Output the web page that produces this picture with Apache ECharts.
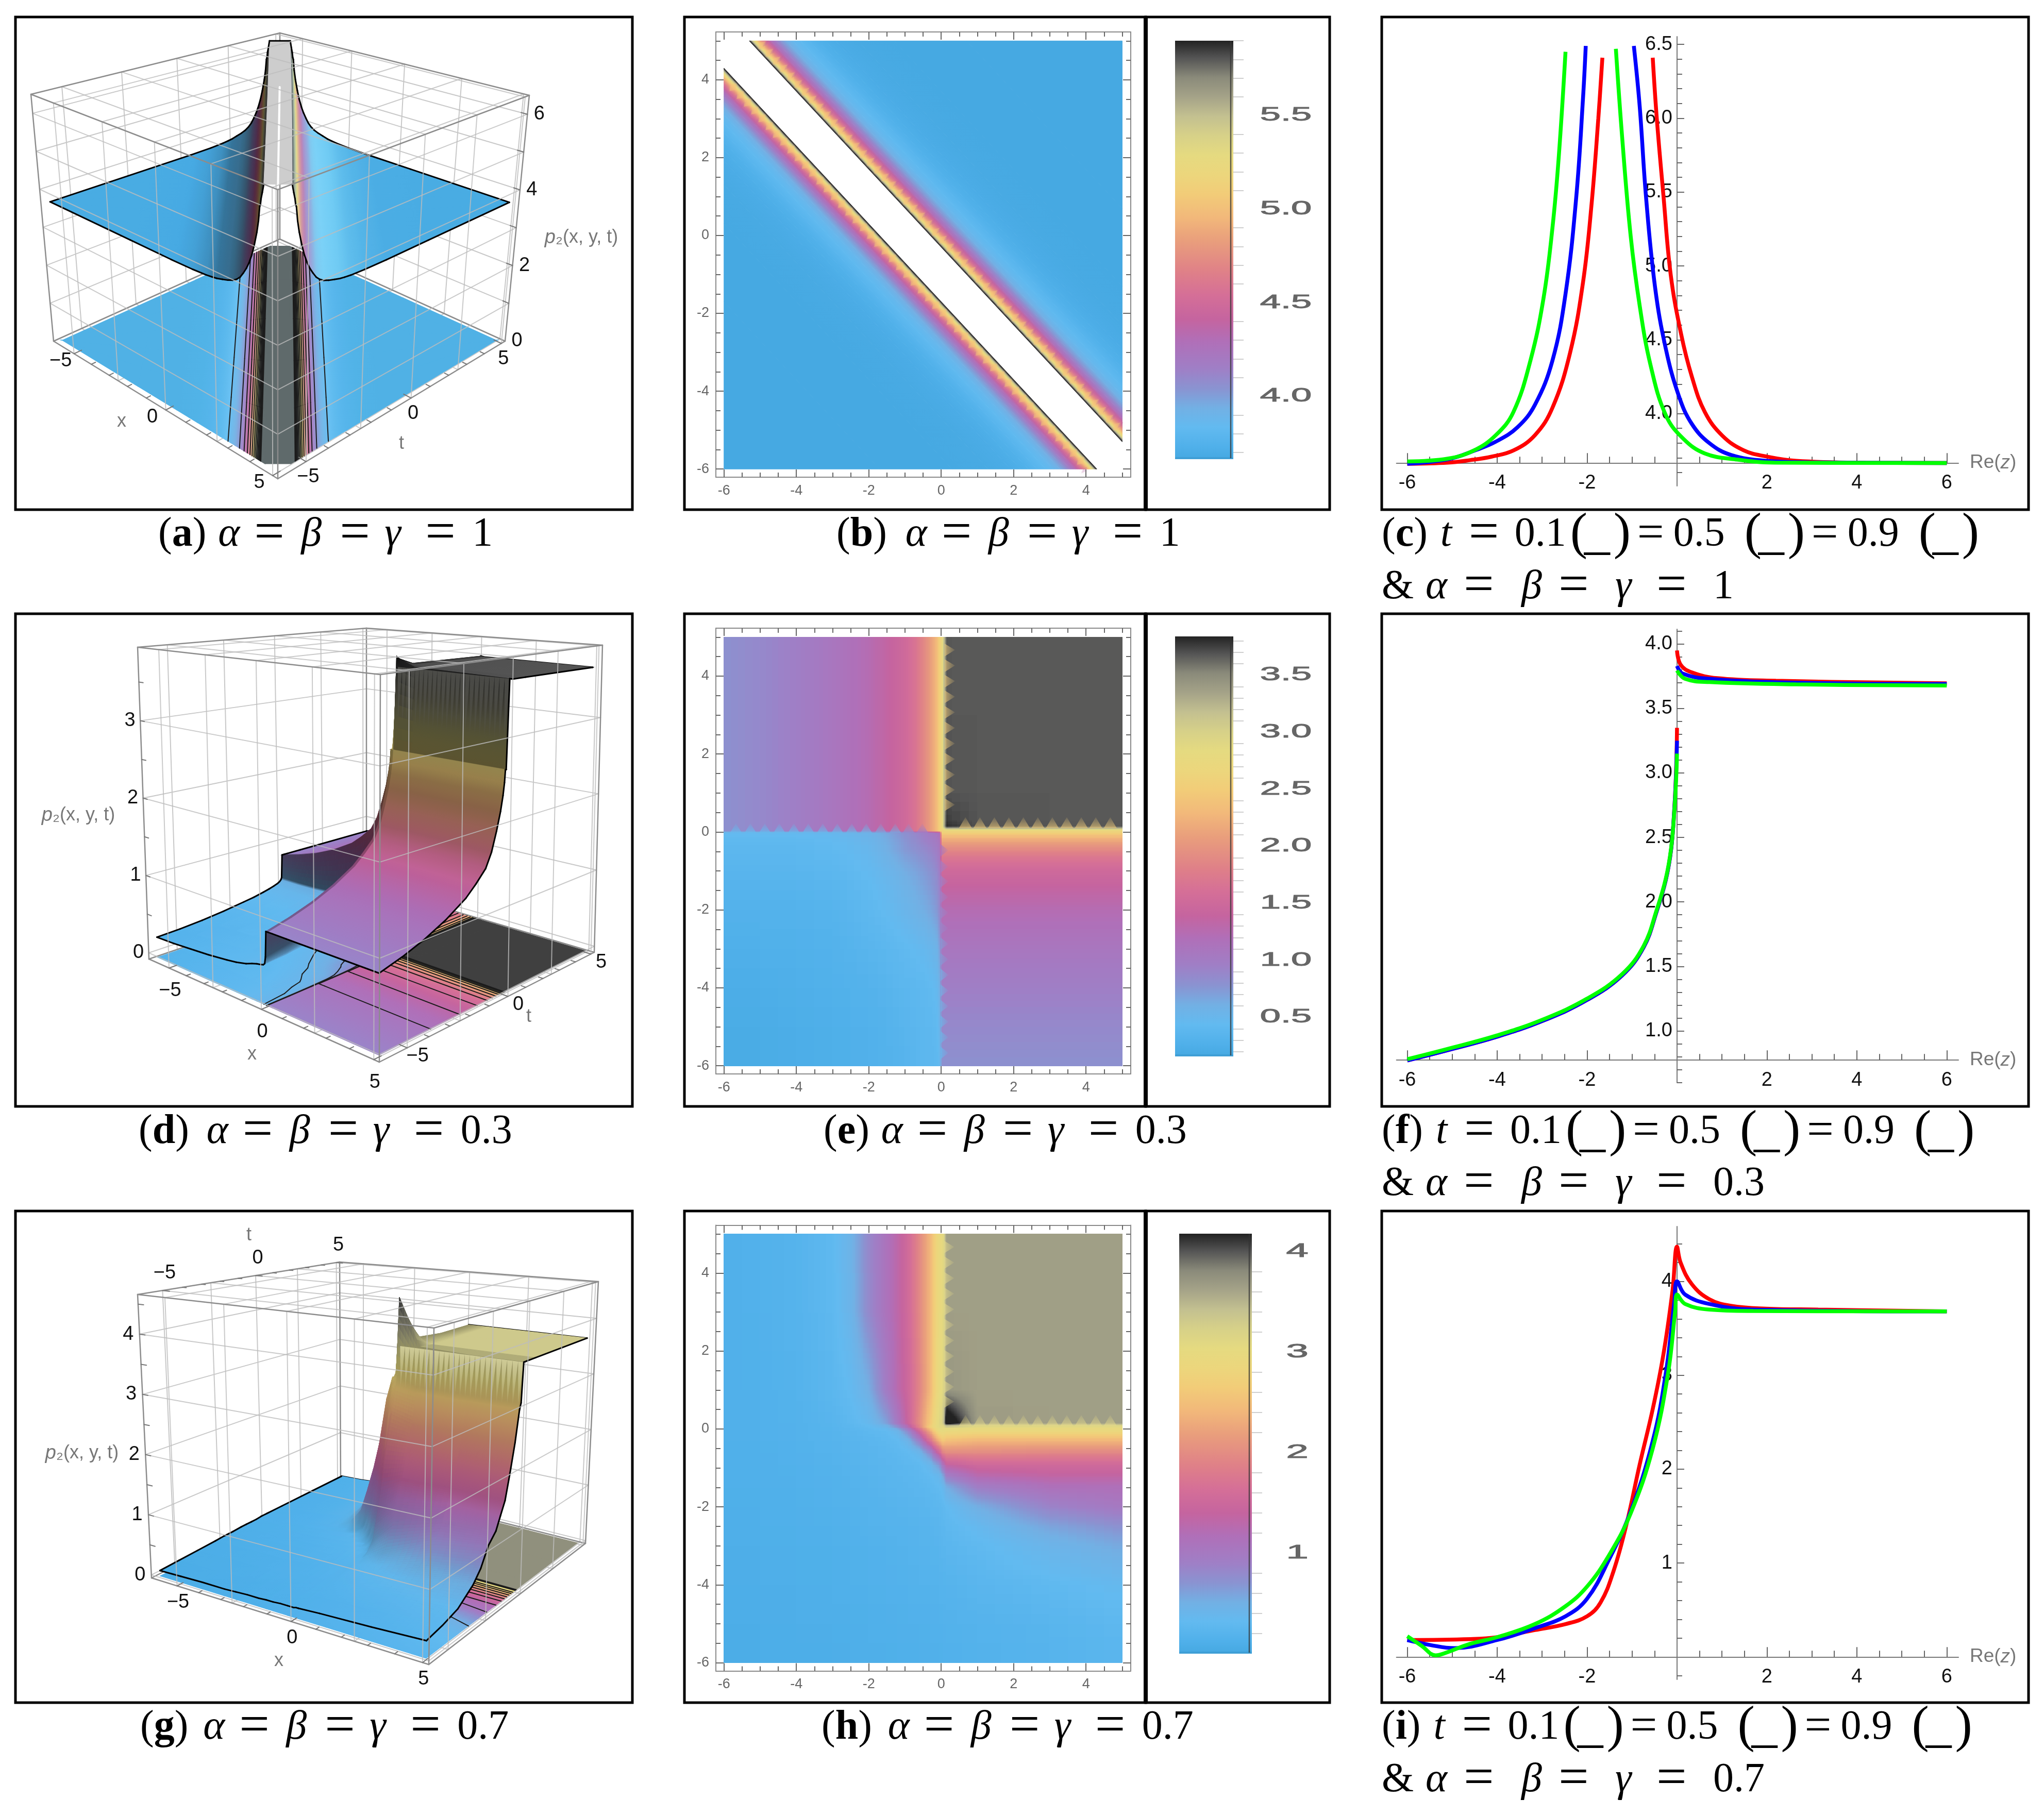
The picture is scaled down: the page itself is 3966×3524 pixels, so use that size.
<!DOCTYPE html>
<html><head><meta charset="utf-8">
<style>html,body{margin:0;background:#fff}#c{width:3966px;height:3524px}</style>
<script src="https://cdn.jsdelivr.net/npm/echarts@6/dist/echarts.min.js"></script>
</head><body><div id="c"></div>
<script>
// ---------- values ----------
const palettePos=[0,.028,.074,.12,.167,.214,.279,.333,.391,.446,.521,.577,.633,.679,.726,.772,.819,.865,.912,.958,1];
const paletteCol=['#46a9e2','#50b0ea','#62baf0','#72b0e4','#8a93d1','#9f7fc6','#b06fb8','#c5649f','#d56f97','#df8088','#e99e7c','#f2b87a','#f2cc78','#ecd67c','#e5da80','#d7d188','#c3c090','#a5a388','#8a8a7a','#555555','#222222'];

// (c) curves
const cRed=[[-6,3.66],[-5.1,3.668],[-4.6,3.685],[-4.13,3.708],[-3.64,3.75],[-3.16,3.854],[-2.77,4.04],[-2.38,4.41],[-2.09,4.89],[-1.9,5.42],[-1.75,6.0],[-1.66,6.41],[-1.1,null],[-.54,6.41],[-.45,6.0],[-.3,5.47],[-.14,4.94],[.09,4.54],[.33,4.25],[.62,4.01],[1.01,3.85],[1.49,3.75],[1.98,3.71],[2.65,3.68],[4.2,3.667],[6,3.665]];
const cBlue=[[-6,3.66],[-5.1,3.69],[-4.5,3.75],[-4.03,3.81],[-3.55,3.907],[-3.16,4.06],[-2.77,4.36],[-2.48,4.81],[-2.24,5.47],[-2.09,6.14],[-2.03,6.49],[-1.5,null],[-.96,6.49],[-.83,6.08],[-.69,5.47],[-.49,4.86],[-.25,4.44],[.04,4.12],[.33,3.93],[.72,3.8],[1.2,3.72],[1.98,3.68],[2.95,3.67],[6,3.665]];
const cGreen=[[-6,3.676],[-5.1,3.695],[-4.52,3.75],[-4.03,3.854],[-3.64,4.01],[-3.26,4.36],[-2.97,4.78],[-2.77,5.26],[-2.63,5.74],[-2.48,6.45],[-1.9,null],[-1.36,6.47],[-1.22,5.87],[-1.03,5.2],[-.83,4.73],[-.59,4.33],[-.25,3.99],[.14,3.83],[.62,3.73],[1.3,3.69],[2.17,3.668],[6,3.665]];
// (f) curves
const fRed=[[-6,.77],[-5.1,.85],[-4,.955],[-2.97,1.08],[-2,1.24],[-1.22,1.43],[-.74,1.65],[-.45,1.93],[-.25,2.17],[-.13,2.41],[-.06,2.72],[-.02,3.02],[0,3.35],[0,null],[0,3.95],[.08,3.84],[.33,3.78],[.9,3.735],[2.2,3.715],[6,3.695]];
const fBlue=[[-6,.77],[-5.1,.85],[-4,.955],[-2.97,1.08],[-2,1.24],[-1.22,1.43],[-.74,1.65],[-.45,1.93],[-.25,2.17],[-.13,2.41],[-.06,2.72],[-.02,3.0],[0,3.25],[0,null],[0,3.83],[.13,3.77],[.72,3.73],[2.65,3.7],[6,3.69]];
const fGreen=[[-6,.78],[-5.1,.86],[-4,.965],[-2.97,1.09],[-2,1.25],[-1.22,1.44],[-.74,1.66],[-.45,1.94],[-.25,2.18],[-.13,2.42],[-.06,2.7],[-.02,2.95],[0,3.15],[0,null],[0,3.795],[.18,3.73],[.72,3.705],[2.65,3.687],[6,3.678]];
// (i) curves
const iRed=[[-6,.18],[-4.6,.19],[-4,.21],[-3.16,.286],[-2.48,.35],[-2,.433],[-1.7,.58],[-1.41,.917],[-1.12,1.42],[-.83,2.05],[-.54,2.64],[-.3,3.23],[-.1,3.9],[0,4.37],[.08,4.2],[.33,3.97],[.72,3.81],[1.2,3.74],[1.98,3.71],[3.14,3.7],[6,3.68]];
const iBlue=[[-6,.18],[-5.48,.126],[-4.95,.093],[-4,.18],[-3.16,.307],[-2.48,.433],[-2,.62],[-1.51,1.04],[-1.03,1.55],[-.54,2.3],[-.25,3.02],[-.06,3.78],[0,4],[.18,3.86],[.72,3.76],[1.69,3.7],[6,3.68]];
const iGreen=[[-6,.22],[-5.68,.118],[-5.37,.017],[-5.2,.034],[-4.6,.139],[-4,.21],[-3.16,.35],[-2.48,.54],[-2,.75],[-1.51,1.085],[-1.03,1.53],[-.54,2.22],[-.2,3.02],[-.04,3.69],[0,3.86],[.18,3.76],[.72,3.7],[1.69,3.685],[6,3.68]];

// (a),(b): value against distance from the clipped band of x+t
const bandLow=-1.7, bandHigh=-.3, bandTop=5.9, capTop=6.4;
const ridgeDist=[0,.03,.08,.15,.26,.37,.49,.6,.73,.87,1.02,1.2,1.41,1.65,1.89,2.1,2.38,3,4,6,10.3];
const ridgeVal=[5.9,5.85,5.52,5.24,4.92,4.66,4.45,4.3,4.16,4.03,3.94,3.87,3.82,3.78,3.74,3.72,3.7,3.68,3.67,3.67,3.67];
const ridgeDistTop=[-.14,-.08,-.03];
const ridgeValTop=[6.4,6.2,6.05];
const beadStepX=.2;

// (d),(e): grid axis and quadrants
const qAxis=[-6,-5,-4,-3,-2,-1.5,-1,-.7,-.45,-.25,-.13,-.06,-.02,.02,.14,.3,1,5];
const qEdge=[.8,.87,.96,1.08,1.24,1.36,1.5,1.67,1.9,2.12,2.3,2.45,2.6];
const qLower=[
[.2,.21,.23,.25,.28,.3,.33,.36,.38,.39,.4,.42,.5],
[.21,.22,.24,.26,.29,.31,.35,.37,.39,.4,.42,.46,.56],
[.23,.24,.26,.28,.31,.34,.38,.39,.41,.43,.47,.52,.62],
[.26,.27,.28,.3,.35,.38,.42,.45,.48,.52,.56,.62,.74],
[.3,.3,.31,.33,.4,.45,.52,.58,.62,.68,.74,.8,.9],
[.32,.32,.33,.35,.42,.48,.56,.62,.68,.74,.8,.86,.94],
[.35,.35,.36,.38,.45,.52,.62,.68,.74,.8,.86,.92,1],
[.37,.37,.38,.4,.47,.56,.68,.74,.8,.86,.92,.97,1.04],
[.39,.39,.39,.42,.5,.6,.74,.8,.86,.92,.97,1.02,1.08],
[.41,.41,.41,.44,.52,.62,.76,.84,.92,.97,1.02,1.06,1.12],
[.43,.43,.43,.46,.54,.64,.78,.86,.94,1,1.05,1.09,1.14],
[.45,.45,.46,.48,.55,.65,.8,.88,.96,1.02,1.07,1.11,1.16],
[.48,.48,.49,.51,.58,.68,.82,.9,.98,1.04,1.1,1.14,1.22]];
const qUpper=[[2.6,2.6,2.6,2.6,2.6],[2.6,3.82,3.78,3.7,3.68],[2.6,3.78,3.74,3.69,3.67],[2.6,3.7,3.69,3.68,3.67],[2.6,3.68,3.67,3.67,3.66]];
// serrations along the seams of (e),(h)
const toothX=[.67,1.07,1.47,1.87,2.27,2.67,3.07,3.47,3.87,4.27,4.67];
const toothT=[.7,1.08,1.47,1.87,2.27,2.67,3.07,3.47,3.87,4.27,4.67];
const lowX=[-.52,-.9,-1.27,-1.67,-2.07,-2.47,-2.87,-3.27,-3.67,-4.07,-4.47,-4.87,-5.27,-5.67];
const lowT=[-.47,-.89,-1.27,-1.67,-2.07,-2.47,-2.87,-3.27,-3.67,-4.07,-4.47,-4.87,-5.27,-5.67];
// comb at the head of the steep walls of (d),(g)
const combX=[.3,.5,.7,.9,1.1,1.3,1.5,1.7,1.9,2.1,2.3,2.5,2.7,2.9,3.1,3.3,3.5,3.7,3.9,4.1,4.3,4.5,4.7,4.9];

// (g),(h): grid
const hAxis=[-6,-5,-4,-3,-2.5,-2,-1.5,-1.2,-.9,-.6,-.3,-.05,.05,.15,1,3,5];
const hRowsTopDown=[
[.12,.14,.18,.28,.45,.8,1.1,1.3,1.55,1.95,2.4,2.95,3.0,3.65,3.65,3.65,3.65],
[.12,.14,.18,.27,.42,.78,1.1,1.3,1.55,1.95,2.4,2.95,3.0,3.65,3.65,3.65,3.65],
[.12,.13,.16,.24,.32,.5,.95,1.25,1.5,1.9,2.4,3.0,3.05,3.72,3.65,3.65,3.65],
[.12,.13,.15,.2,.26,.35,.6,1.0,1.45,2.0,2.6,3.1,3.2,4.5,3.68,3.65,3.65],
[.12,.13,.15,.2,.24,.3,.42,.7,1.2,1.9,2.7,3.1,3.05,3.15,3.0,3.0,3.0],
[.12,.13,.15,.19,.22,.26,.3,.42,.8,1.5,2.3,3.0,3.0,2.95,2.9,2.9,2.9],
[.12,.13,.15,.18,.2,.23,.26,.3,.45,.9,1.7,2.4,2.6,2.5,2.4,2.4,2.4],
[.11,.12,.14,.17,.19,.21,.24,.26,.3,.4,.8,1.5,1.9,2.0,2.0,1.95,1.95],
[.11,.12,.14,.16,.18,.2,.22,.24,.26,.28,.4,.7,1.1,1.4,1.55,1.55,1.55],
[.11,.12,.13,.15,.17,.19,.21,.22,.24,.26,.3,.38,.55,.9,1.25,1.35,1.35],
[.11,.12,.13,.15,.16,.18,.2,.21,.22,.24,.26,.3,.35,.5,.9,1.12,1.15],
[.1,.11,.12,.14,.15,.17,.18,.19,.2,.21,.23,.25,.27,.3,.5,.85,1.0],
[.1,.11,.12,.13,.14,.16,.17,.18,.18,.19,.2,.22,.24,.26,.35,.58,.72],
[.09,.1,.11,.12,.13,.14,.15,.16,.17,.18,.19,.2,.22,.23,.28,.42,.55],
[.08,.09,.1,.11,.12,.13,.14,.14,.15,.16,.16,.17,.18,.18,.22,.28,.35],
[.07,.08,.09,.1,.1,.11,.12,.12,.13,.13,.14,.14,.15,.15,.17,.21,.27],
[.06,.07,.08,.08,.09,.1,.1,.11,.11,.12,.12,.12,.13,.13,.15,.18,.22]];

// tick labels
const densityMajor=[-6,-4,-2,0,2,4];
const densityMinor=[-5.5,-5,-4.5,-3.5,-3,-2.5,-1.5,-1,-.5,.5,1,1.5,2.5,3,3.5,4.5,5];
const curveXMajor=[-6,-4,-2,2,4,6];
const curveXMinor=[-5.5,-5,-4.5,-3.5,-3,-2.5,-1.5,-1,-.5,.5,1,1.5,2.5,3,3.5,4.5,5,5.5];
const cYMajor=[4,4.5,5,5.5,6,6.5];
const cYMinor=[3.6,3.7,3.8,3.9,4.1,4.2,4.3,4.4,4.6,4.7,4.8,4.9,5.1,5.2,5.3,5.4,5.6,5.7,5.8,5.9,6.1,6.2,6.3,6.4];
const fYMajor=[1,1.5,2,2.5,3,3.5,4];
const fYMinor=[.6,.7,.8,.9,1.1,1.2,1.3,1.4,1.6,1.7,1.8,1.9,2.1,2.2,2.3,2.4,2.6,2.7,2.8,2.9,3.1,3.2,3.3,3.4,3.6,3.7,3.8,3.9,4.1];
const iYMajor=[1,2,3,4];
const iYMinor=[-.2,.2,.4,.6,.8,1.2,1.4,1.6,1.8,2.2,2.4,2.6,2.8,3.2,3.4,3.6,3.8,4.2,4.4];
const barB=[4,4.5,5,5.5], barE=[.5,1,1.5,2,2.5,3,3.5], barH=[1,2,3,4];
const tick3DMajor=[-5,0,5];
const tick3DMinor=[-4,-3,-2,-1,1,2,3,4];

// ---------- helpers ----------
const palCache={};
function pal(p){
  p=Math.max(0,Math.min(1,p));
  const k=Math.round(p*1500);
  if(palCache[k])return palCache[k];
  let i=0;while(i<palettePos.length-2&&palettePos[i+1]<p)i++;
  const c=echarts.color.lerp((p-palettePos[i])/(palettePos[i+1]-palettePos[i]),[paletteCol[i],paletteCol[i+1]]);
  return palCache[k]=c;
}
const glow=[150,235,255];
function shade(c,l){
  if(!l)return c;
  const a=echarts.color.parse(c);
  const f=(v,k)=>Math.round(l<0?v*(1+l):v+(glow[k]-v)*l);
  return 'rgb('+f(a[0],0)+','+f(a[1],1)+','+f(a[2],2)+')';
}
function fade(c,alpha){const a=echarts.color.parse(c);return 'rgba('+a[0]+','+a[1]+','+a[2]+','+alpha+')';}
const grids=[],xAxes=[],yAxes=[],series=[],graphics=[];
const SANS='Liberation Sans',SERIF='Liberation Serif';

grids.push({left:0,top:0,width:3966,height:3524});
xAxes.push({type:'value',gridIndex:0,min:0,max:3966,show:false});
yAxes.push({type:'value',gridIndex:0,min:0,max:3524,inverse:true,show:false});
function axisIdx(arr,o){arr.push(o);return arr.length-1;}

function densityFrame(rect,xr,yr){
  const g=grids.push({left:rect[0],top:rect[1],width:rect[2],height:rect[3]})-1;
  const lc={lineStyle:{color:'#8a8a8a',width:2}};
  const mk=(dim,pos,vals,len,labels,line)=>{
    const r=dim==='x'?xr:yr;
    const o={type:'value',gridIndex:g,position:pos,min:r[0],max:r[1],splitLine:{show:false},
      axisLine:{show:line,onZero:false,...lc},
      axisTick:{show:true,inside:true,length:len,customValues:vals,lineStyle:{color:'#666',width:2}},
      axisLabel:labels?{show:true,customValues:vals,fontFamily:SANS,fontSize:27,color:'#666',margin:13}:{show:false}};
    return axisIdx(dim==='x'?xAxes:yAxes,o);
  };
  const xi=mk('x','bottom',densityMajor,15,true,true);
  mk('x','bottom',densityMinor,9,false,false);
  mk('x','top',densityMajor,15,false,true);
  mk('x','top',densityMinor,9,false,false);
  const yi=mk('y','left',densityMajor,15,true,true);
  mk('y','left',densityMinor,9,false,false);
  mk('y','right',densityMajor,15,false,true);
  mk('y','right',densityMinor,9,false,false);
  return {xi,yi};
}
function customBase(name,xi,yi,render,data,extra){
  return Object.assign({type:'custom',name,coordinateSystem:'cartesian2d',xAxisIndex:xi,yAxisIndex:yi,silent:true,
    animation:false,progressive:0,clip:false,data,renderItem:render},extra||{});
}
function densitySeries(name,ax,xs,ts,tab,lo,hi){
  const data=[];
  for(let j=0;j<ts.length-1;j++)for(let i=0;i<xs.length-1;i++)
    data.push([xs[i],ts[j],xs[i+1],ts[j+1],tab[j][i],tab[j][i+1],tab[j+1][i],tab[j+1][i+1]]);
  const span=hi-lo;
  return customBase(name,ax.xi,ax.yi,(p,api)=>{
    const [x0,t0,x1,t1,a,b,c,d]=[0,1,2,3,4,5,6,7].map(k=>api.value(k));
    const A=api.coord([x0,t1]),B=api.coord([x1,t0]);
    const px0=A[0],py0=A[1],pw=B[0]-A[0],ph=B[1]-A[1];
    const dH=Math.max(Math.abs(a-b),Math.abs(c-d))/span,dV=Math.max(Math.abs(a-c),Math.abs(b-d))/span;
    const nx=Math.max(1,Math.min(Math.ceil(pw/3),Math.ceil(dH*220)));
    const ny=Math.max(1,Math.min(Math.ceil(ph/3),Math.ceil(dV*220)));
    const ch=[];
    for(let iy=0;iy<ny;iy++){
      const fy=(iy+.5)/ny;
      const y0=Math.floor(py0+ph*iy/ny),y1=Math.ceil(py0+ph*(iy+1)/ny);
      for(let ix=0;ix<nx;ix++){
        const fx=(ix+.5)/nx;
        const x_0=Math.floor(px0+pw*ix/nx),x_1=Math.ceil(px0+pw*(ix+1)/nx);
        const top=c+(d-c)*fx,bot=a+(b-a)*fx;
        const v=top+(bot-top)*fy;
        ch.push({type:'rect',shape:{x:x_0,y:y0,width:x_1-x_0,height:y1-y0},style:{fill:pal((v-lo)/span)}});
      }
    }
    return {type:'group',children:ch};
  },data,{encode:{x:[0,2],y:[1,3]}});
}
function teethSeries(name,ax,items){
  return customBase(name,ax.xi,ax.yi,(p,api)=>{
    const it=items[p.dataIndex];
    const a=api.coord([it[0]-it[4],it[1]-it[5]]),b=api.coord([it[0]+it[4],it[1]+it[5]]),tip=api.coord([it[2],it[3]]);
    const m=api.coord([it[0],it[1]]);
    const f=new echarts.graphic.LinearGradient(m[0],m[1],tip[0],tip[1],[{offset:0,color:fade(it[6],it[7]||.65)},{offset:1,color:fade(it[6],.12)}],true);
    return {type:'polygon',shape:{points:[a,b,tip]},style:{fill:f}};
  },items.map(i=>[i[0],i[1]]),{encode:{x:0,y:1}});
}
function gradient(A,C,edge,c0,c1,lo,hi,l0,l1,maxP){
  const len=Math.hypot(edge[0],edge[1])||1;
  const n=[-edge[1]/len,edge[0]/len];
  const dot=(C[0]-A[0])*n[0]+(C[1]-A[1])*n[1];
  const B=Math.abs(dot)>.3&&len>1?[A[0]+n[0]*dot,A[1]+n[1]*dot]:C;
  const dl=Math.abs(l1-l0);
  const steps=Math.min(14,Math.max(dl>.005?Math.min(8,Math.ceil(dl*40)):1,Math.ceil(Math.abs(c1-c0)/(hi-lo)*40)));
  const col=(v,l)=>shade(pal(Math.min(maxP,(v-lo)/(hi-lo))),l);
  if(Math.abs(c1-c0)<1e-6&&dl<.002)return col(c0,l0);
  const stops=[];
  for(let s=0;s<=steps;s++){const f=s/steps;stops.push({offset:f,color:col(c0+(c1-c0)*f,l0+(l1-l0)*f)});}
  return new echarts.graphic.LinearGradient(A[0],A[1],B[0],B[1],stops,true);
}
function lineEnds(u){return [Math.max(-6,u-5),Math.min(5,u+6)];}
function stripSeries(name,ax,us,zs,lo,hi){
  const data=[];
  for(let i=0;i<us.length-1;i++)data.push([us[i],us[i+1],zs[i],zs[i+1]]);
  return customBase(name,ax.xi,ax.yi,(p,api)=>{
    const [u0,u1,z0,z1]=[0,1,2,3].map(k=>api.value(k));
    const e0=lineEnds(u0),e1=lineEnds(u1);
    const a=api.coord([e0[0],u0-e0[0]]),b=api.coord([e0[1],u0-e0[1]]),c=api.coord([e1[1],u1-e1[1]]),d=api.coord([e1[0],u1-e1[0]]);
    const e1L=Math.hypot(b[0]-a[0],b[1]-a[1]),e2L=Math.hypot(c[0]-d[0],c[1]-d[1]);
    const f=e1L>=e2L?gradient(a,d,[b[0]-a[0],b[1]-a[1]],z0,z1,lo,hi,0,0,1):gradient(d,a,[c[0]-d[0],c[1]-d[1]],z1,z0,lo,hi,0,0,1);
    return {type:'polygon',shape:{points:[a,b,c,d]},style:{fill:f,stroke:f,lineWidth:1}};
  },data,{encode:{x:0,y:1}});
}
function beadSeries(name,ax,items){
  return customBase(name,ax.xi,ax.yi,(p,api)=>{
    const it=items[p.dataIndex];const x=it[0],u=it[1],ha=it[2],hc=it[3];
    const pts=[api.coord([x+ha,u-x-ha]),api.coord([x+hc/2,u-x+hc/2]),api.coord([x-ha,u-x+ha]),api.coord([x-hc/2,u-x-hc/2])];
    return {type:'polygon',shape:{points:pts},style:{fill:it[4],opacity:it[5],shadowBlur:6,shadowColor:it[4]}};
  },items.map(i=>[i[0],i[1]-i[0]]),{encode:{x:0,y:1}});
}
function colorBar(name,rect,lo,hi,major,step,labelX,scaleX,fmt){
  const g=grids.push({left:rect[0],top:rect[1],width:rect[2],height:rect[3]})-1;
  const xi=axisIdx(xAxes,{type:'value',gridIndex:g,min:0,max:1,show:false});
  const minor=[];
  for(let v=Math.ceil(lo/step)*step;v<hi;v+=step){const r=Math.round(v*100)/100;if(!major.includes(r))minor.push(r);}
  const mkY=(vals,len,col)=>axisIdx(yAxes,{type:'value',gridIndex:g,position:'right',min:lo,max:hi,splitLine:{show:false},axisLine:{show:false},
    axisLabel:{show:false},axisTick:{show:true,length:len,customValues:vals,lineStyle:{color:col,width:2}}});
  const yi=mkY(major,32,'#bdbdbd');mkY(minor,20,'#cfcfcf');
  const stops=palettePos.map((o,i)=>({offset:o,color:paletteCol[i]}));
  series.push(customBase(name,xi,yi,(p,api)=>{
    const a=api.coord([0,hi]),b=api.coord([1,lo]);
    return {type:'group',children:[
      {type:'rect',shape:{x:a[0],y:a[1],width:b[0]-a[0],height:b[1]-a[1]},
       style:{fill:new echarts.graphic.LinearGradient(0,1,0,0,stops),stroke:null}},
      {type:'line',shape:{x1:a[0],y1:b[1],x2:b[0],y2:b[1]},style:{stroke:'#3f9fd6',lineWidth:4}},
      {type:'line',shape:{x1:b[0]-5,y1:a[1],x2:b[0]-5,y2:b[1]},style:{stroke:'#333',lineWidth:2.5,opacity:.75}}
    ]};
  },[[0,lo]],{encode:{x:0,y:1}}));
  series.push(customBase(name+' labels',xi,yi,(p,api)=>{
    const v=api.value(1);const c=api.coord([1,v]);
    return {type:'text',x:labelX,y:c[1],scaleX:scaleX,style:{text:fmt(v),fontFamily:SANS,fontSize:37,fill:'#666',stroke:'#666',lineWidth:1,align:'center',verticalAlign:'middle'}};
  },major.map(v=>[1,v]),{encode:{x:0,y:1}}));
}
function curvePanel(rect,ymin,ymax,cross,yMajor,yMinor,fmt,curves){
  const [l,t,w,h]=rect;const XMIN=-6.24,XMAX=6.26;
  const g=grids.push({left:l,top:t,width:w,height:h})-1;
  const off=-(cross-ymin)*h/(ymax-ymin);
  const offY=XMIN*w/(XMAX-XMIN);
  const tickC={color:'#666',width:2};
  const xi=axisIdx(xAxes,{type:'value',gridIndex:g,position:'bottom',offset:off,min:XMIN,max:XMAX,splitLine:{show:false},
    axisLine:{show:true,onZero:false,lineStyle:{color:'#777',width:2}},
    axisTick:{show:true,inside:true,length:19,customValues:curveXMajor,lineStyle:tickC},
    axisLabel:{show:true,customValues:curveXMajor,fontFamily:SANS,fontSize:38,color:'#111',margin:20},
    name:'Re({i|z})',nameLocation:'end',nameGap:22,nameTextStyle:{fontFamily:SANS,fontSize:37,color:'#777',rich:{i:{fontFamily:SANS,fontSize:37,color:'#777',fontStyle:'italic'}}}});
  axisIdx(xAxes,{type:'value',gridIndex:g,position:'bottom',offset:off,min:XMIN,max:XMAX,splitLine:{show:false},axisLine:{show:false,onZero:false},
    axisLabel:{show:false},axisTick:{show:true,inside:true,length:12,customValues:curveXMinor,lineStyle:tickC}});
  const yi=axisIdx(yAxes,{type:'value',gridIndex:g,position:'left',offset:offY,min:ymin,max:ymax,splitLine:{show:false},
    axisLine:{show:true,onZero:false,lineStyle:{color:'#777',width:2}},
    axisTick:{show:true,inside:true,length:14,customValues:yMajor,lineStyle:tickC},
    axisLabel:{show:true,customValues:yMajor,formatter:fmt,fontFamily:SANS,fontSize:38,color:'#111',margin:9}});
  axisIdx(yAxes,{type:'value',gridIndex:g,position:'left',offset:offY,min:ymin,max:ymax,splitLine:{show:false},axisLine:{show:false,onZero:false},
    axisLabel:{show:false},axisTick:{show:true,inside:true,length:10,customValues:yMinor,lineStyle:tickC}});
  curves.forEach(c=>series.push({type:'line',name:c[0],xAxisIndex:xi,yAxisIndex:yi,data:c[1],smooth:.4,showSymbol:false,connectNulls:false,clip:false,animation:false,
    lineStyle:{color:c[2],width:7.5},itemStyle:{color:c[2]},silent:true}));
}
const B0=-6.22,B1=5.22;
function proj(b,x,t,z){
  const u=(x-B0)/(B1-B0),v=(t-B0)/(B1-B0),w=(z-b.z[0])/(b.z[1]-b.z[0]);
  const base=[(1-u)*(1-v),u*(1-v),u*v,(1-u)*v];
  let sx=0,sy=0,sw=0;
  for(let i=0;i<4;i++){
    const k=b.w[i]*base[i];
    sx+=k*((1-w)*b.bot[i][0]+w*b.top[i][0]);
    sy+=k*((1-w)*b.bot[i][1]+w*b.top[i][1]);
    sw+=k;
  }
  return [sx/sw,sy/sw];
}
function lineSeries3D(name,box,segs,color,width,opacity){
  return customBase(name,0,0,(p,api)=>{
    const a=api.coord(proj(box,api.value(0),api.value(1),api.value(2))),b=api.coord(proj(box,api.value(3),api.value(4),api.value(5)));
    return {type:'line',shape:{x1:a[0],y1:a[1],x2:b[0],y2:b[1]},style:{stroke:color,lineWidth:width,opacity:opacity==null?1:opacity,lineCap:'round'}};
  },segs);
}
function boxLines(box,gridV,zLines){
  const [z0,z1]=box.z;const back=[],front=[];
  gridV.forEach(v=>{
    back.push([v,B0,z0,v,B1,z0],[B0,v,z0,B1,v,z0],[v,B1,z0,v,B1,z1],[B0,v,z0,B0,v,z1]);
    front.push([v,B0,z1,v,B1,z1],[B0,v,z1,B1,v,z1],[v,B0,z0,v,B0,z1],[B1,v,z0,B1,v,z1]);
  });
  zLines.forEach(z=>{
    back.push([B0,B0,z,B0,B1,z],[B0,B1,z,B1,B1,z]);
    front.push([B0,B0,z,B1,B0,z],[B1,B0,z,B1,B1,z]);
  });
  const backEdges=[[B0,B1,z0,B0,B1,z1],[B0,B1,z0,B1,B1,z0],[B0,B1,z0,B0,B0,z0]];
  const frontEdges=[[B0,B0,z1,B1,B0,z1],[B1,B0,z1,B1,B1,z1],[B1,B1,z1,B0,B1,z1],[B0,B1,z1,B0,B0,z1],
    [B0,B0,z0,B0,B0,z1],[B1,B0,z0,B1,B0,z1],[B1,B1,z0,B1,B1,z1],[B0,B0,z0,B1,B0,z0],[B1,B0,z0,B1,B1,z0]];
  return {back,front,backEdges,frontEdges};
}
function cellSeries(name,box,cells,lo,hi,maxP,lvlBase){
  const span=hi-lo,base=lvlBase||0;
  return customBase(name,0,0,(p,api)=>{
    const v=k=>api.value(k);
    const P=[0,3,6,9].map(k=>api.coord(proj(box,v(k),v(k+1),v(k+2))));
    const c=[v(12),v(13),v(14),v(15)],L=[v(16)+base,v(17)+base,v(18)+base,v(19)+base];
    const dU=Math.abs(c[1]+c[2]-c[0]-c[3]),dV=Math.abs(c[3]+c[2]-c[0]-c[1]);
    const big=Math.min(dU,dV)/span>.012&&Math.hypot(P[2][0]-P[0][0],P[2][1]-P[0][1])>18;
    if(big){
      const n=8,ch=[];
      const bl=(q,fu,fv)=>(q[0]*(1-fu)+q[1]*fu)*(1-fv)+(q[3]*(1-fu)+q[2]*fu)*fv;
      const pt=(fu,fv)=>{
        const x=bl([v(0),v(3),v(6),v(9)],fu,fv),t=bl([v(1),v(4),v(7),v(10)],fu,fv),z=bl([v(2),v(5),v(8),v(11)],fu,fv);
        return api.coord(proj(box,x,t,z));
      };
      for(let b=0;b<n;b++)for(let a=0;a<n;a++){
        const fu=(a+.5)/n,fv=(b+.5)/n;
        const col=shade(pal(Math.min(maxP,(bl(c,fu,fv)-lo)/span)),bl(L,fu,fv));
        ch.push({type:'polygon',shape:{points:[pt(a/n,b/n),pt((a+1)/n,b/n),pt((a+1)/n,(b+1)/n),pt(a/n,(b+1)/n)]},style:{fill:col,stroke:col,lineWidth:1}});
      }
      return {type:'group',children:ch};
    }
    let A,C,e,c0,c1,l0,l1;
    const mid=(a,b)=>[(a[0]+b[0])/2,(a[1]+b[1])/2];
    if(dU>=dV){A=mid(P[0],P[3]);C=mid(P[1],P[2]);e=[P[3][0]-P[0][0],P[3][1]-P[0][1]];c0=(c[0]+c[3])/2;c1=(c[1]+c[2])/2;l0=(L[0]+L[3])/2;l1=(L[1]+L[2])/2;}
    else{A=mid(P[0],P[1]);C=mid(P[3],P[2]);e=[P[1][0]-P[0][0],P[1][1]-P[0][1]];c0=(c[0]+c[1])/2;c1=(c[1]+c[2]+c[3]-c[1]-c[3]+c[3])/2+(c[2]-c[2]);l0=(L[0]+L[1])/2;l1=(L[3]+L[2])/2;}
    const f=gradient(A,C,e,c0,c1,lo,hi,l0,l1,maxP);
    return {type:'polygon',shape:{points:P},style:{fill:f,stroke:f,lineWidth:1.2}};
  },cells);
}
function buildMesh(X,T,Z,lightFn,floorZ,levels,backHidden){
  const cells=[],floor=[],cont=[],out=[],outBack=[];
  const nj=Z.length,ni=Z[0].length;
  const Lt=Z.map((r,j)=>r.map((_,i)=>lightFn(X,T,Z,j,i)));
  for(let j=nj-2;j>=0;j--)for(let i=0;i<ni-1;i++){
    const a=[X[j][i],T[j][i],Z[j][i]],b=[X[j][i+1],T[j][i+1],Z[j][i+1]],c=[X[j+1][i+1],T[j+1][i+1],Z[j+1][i+1]],d=[X[j+1][i],T[j+1][i],Z[j+1][i]];
    cells.push([...a,...b,...c,...d,a[2],b[2],c[2],d[2],Lt[j][i],Lt[j][i+1],Lt[j+1][i+1],Lt[j+1][i]]);
    floor.push([a[0],a[1],floorZ,b[0],b[1],floorZ,c[0],c[1],floorZ,d[0],d[1],floorZ,a[2],b[2],c[2],d[2],0,0,0,0]);
    levels.forEach(L=>{
      const pts=[];
      [[a,b],[b,c],[d,c],[a,d]].forEach(([p,q])=>{
        if((p[2]<L)!==(q[2]<L)){const f=(L-p[2])/(q[2]-p[2]);pts.push([p[0]+(q[0]-p[0])*f,p[1]+(q[1]-p[1])*f]);}
      });
      for(let k=0;k+1<pts.length;k+=2)cont.push([pts[k][0],pts[k][1],floorZ,pts[k+1][0],pts[k+1][1],floorZ]);
    });
  }
  const seg=(j0,i0,j1,i1)=>[X[j0][i0],T[j0][i0],Z[j0][i0],X[j1][i1],T[j1][i1],Z[j1][i1]];
  for(let i=0;i<ni-1;i++){out.push(seg(0,i,0,i+1));(backHidden?outBack:out).push(seg(nj-1,i,nj-1,i+1));}
  for(let j=0;j<nj-1;j++){out.push(seg(j,0,j+1,0));out.push(seg(j,ni-1,j+1,ni-1));}
  return {cells,floor,cont,out,outBack};
}
function labels3D(name,items){
  return customBase(name,0,0,(p,api)=>{
    const it=items[p.dataIndex];
    const c=api.coord([api.value(0),api.value(1)]);
    const st={text:it[2],fontFamily:SANS,fontSize:it[4]||38,fill:it[3]||'#111',align:'center',verticalAlign:'middle'};
    if(it[5])st.rich=it[5];
    return {type:'text',x:c[0],y:c[1],style:st};
  },items.map(i=>[i[0],i[1]]));
}
const p2rich={i:{fontFamily:SANS,fontStyle:'italic',fontSize:38,color:'#777'},n:{fontFamily:SANS,fontSize:36,color:'#777'}};
const p2text='{i|p}{n|\u2082(x, y, t)}';

function ticks3D(box,xEdgeT,tEdge,zEdge,zVals){
  const segs=[];const [z0,z1]=box.z;
  const add=(list,len)=>list.forEach(v=>{
    segs.push([v,xEdgeT,z0,v,xEdgeT+len,z0]);
    segs.push([tEdge.x,v,tEdge.z,tEdge.x+tEdge.sign*len,v,tEdge.z]);
  });
  add(tick3DMajor,.32);add(tick3DMinor,.18);
  zVals.forEach(z=>segs.push([zEdge.x,zEdge.t,z,zEdge.x+zEdge.sign*.25,zEdge.t,z]));
  return segs;
}
function panel3D(name,box,mesh,lo,hi,floorHi,maxP,surfLift,floorLift,gridV,zLines,labelItems,tickSegs,extra){
  const L=boxLines(box,gridV,zLines);
  series.push(lineSeries3D(name+' back grid',box,L.back,'#c8c8c8',2));
  series.push(lineSeries3D(name+' back edges',box,L.backEdges,'#8c8c8c',2.5));
  series.push(cellSeries(name+' floor',box,mesh.floor,lo,floorHi,maxP,floorLift));
  series.push(lineSeries3D(name+' floor contours',box,mesh.cont,'#1c1c1c',2));
  if(mesh.outBack.length)series.push(lineSeries3D(name+' back outline',box,mesh.outBack,'#000',3));
  series.push(cellSeries(name+' surface',box,mesh.cells,lo,hi,1,surfLift));
  if(extra)extra();
  series.push(lineSeries3D(name+' outline',box,mesh.out,'#000',3));
  series.push(lineSeries3D(name+' front grid',box,L.front,'#bdbdbd',2,.8));
  series.push(lineSeries3D(name+' front edges',box,L.frontEdges,'#8c8c8c',2.5));
  series.push(lineSeries3D(name+' ticks',box,tickSegs,'#777',2));
  series.push(labels3D(name+' labels',labelItems));
}
function tickLabels(box,list,dx,dy){
  return list.map(e=>{const p=proj(box,e[0],e[1],e[2]);return [p[0]+dx,p[1]+dy,e[3]];});
}
function combSeries(name,box,top,depth,color,alpha){
  return customBase(name,0,0,(p,api)=>{
    const x=api.value(0);
    const a=api.coord(proj(box,x-.1,.14,top)),b=api.coord(proj(box,x+.1,.14,top)),tip=api.coord(proj(box,x,.03,top-depth));
    return {type:'polygon',shape:{points:[a,b,tip]},style:{fill:new echarts.graphic.LinearGradient(a[0],a[1],tip[0],tip[1],[{offset:0,color:fade(color,alpha)},{offset:1,color:fade(color,.1)}],true)}};
  },combX.map(x=>[x,0]));
}

// ---------- frames ----------
const rows=[[33,956],[1191,956],[2350,954]];
rows.forEach(r=>{
  const fr=(x,w,lw)=>graphics.push({type:'rect',shape:{x,y:r[0],width:w,height:r[1]},style:{fill:'transparent',stroke:'#000',lineWidth:lw||5},z:100});
  fr(30,1197);fr(1328,895);fr(2223,357);fr(2681,1255);
  graphics.push({type:'line',shape:{x1:2223,y1:r[0],x2:2223,y2:r[0]+r[1]},style:{stroke:'#000',lineWidth:8},z:100});
});

// ---------- (a) ----------
const boxA={z:[0,6.5],w:[1,.84,1,1.19],
  bot:[[104,662],[539,929],[980,662],[543,464]],top:[[60,183],[539,368],[1027,185],[543,64]]};
const uLeft=ridgeDist.map(d=>bandLow-d).reverse(),zLeft=ridgeVal.slice().reverse();
const uRight=ridgeDist.map(d=>bandHigh+d),zRight=ridgeVal.slice();
const dist3=ridgeDistTop.concat(ridgeDist),val3=ridgeValTop.concat(ridgeVal);
const uLeft3=dist3.map(d=>bandLow-d).reverse(),zLeft3=val3.slice().reverse();
const uRight3=dist3.map(d=>bandHigh+d),zRight3=val3.slice();
const uAll=uLeft3.concat(uRight3),zAll=zLeft3.concat(zRight3);
const qFrac=[0,.2,.4,.6,.8,1];
function ridgeTables(us,zs){
  const X=[],T=[],Z=[];
  qFrac.forEach(q=>{
    const xr=[],tr=[],zr=[];
    us.forEach((u,i)=>{const e=lineEnds(u);const x=e[0]+(e[1]-e[0])*q;xr.push(x);tr.push(u-x);zr.push(zs[i]);});
    X.push(xr);T.push(tr);Z.push(zr);
  });
  return {X,T,Z};
}
const tabA=ridgeTables(uAll,zAll);
const ridgeLight=(X,T,Z,j,i)=>{
  const n=Z[0].length,i0=Math.max(0,i-1),i1=Math.min(n-1,i+1);
  const du=(X[j][i1]+T[j][i1])-(X[j][i0]+T[j][i0]);
  if(Math.abs(du)<1e-6)return 0;
  const s=(Z[j][i1]-Z[j][i0])/du,a=Math.abs(s),sat=a/(a+.1);
  if(Z[j][i]>=capTop)return 0;
  return s>0?-.66*sat:.85*sat/(1+1.5*a);
};
const meshA=buildMesh(tabA.X,tabA.T,tabA.Z,ridgeLight,.02,[3.8,3.95,4.1,4.25,4.4,4.55,4.7,4.85,5,5.15,5.3,5.45,5.6,5.75],false);
const capIdx=uLeft3.length-1;
meshA.cells=meshA.cells.filter(c=>!(Math.abs(c[2]-capTop)<1e-6&&Math.abs(c[5]-capTop)<1e-6));
meshA.out=meshA.out.filter(s=>!(s[2]===capTop&&s[5]===capTop&&(s[0]-s[1])>0));
meshA.cap=[];
for(let k=0;k<qFrac.length-1;k++){
  const t=tabA;meshA.cap.push([t.X[k][capIdx],t.T[k][capIdx],capTop,t.X[k][capIdx+1],t.T[k][capIdx+1],capTop,t.X[k+1][capIdx+1],t.T[k+1][capIdx+1],capTop,t.X[k+1][capIdx],t.T[k+1][capIdx],capTop]);
}
const lblA=[
 ...tickLabels(boxA,[[-5,B0,0,'\u22125'],[0,B0,0,'0'],[5,B0,0,'5']],-26,14),
 ...tickLabels(boxA,[[B1,-5,0,'\u22125'],[B1,0,0,'0'],[B1,5,0,'5']],4,30),
 ...tickLabels(boxA,[[B1,B1,0,'0'],[B1,B1,2,'2'],[B1,B1,4,'4'],[B1,B1,6,'6']],23,0),
 [236,818,'x','#777',36],[779,861,'t','#777',36],[1128,461,p2text,'#777',36,p2rich]];
panel3D('(a)',boxA,meshA,3.67,capTop,5.2,.955,.04,.12,[-5,-2.5,0,2.5,5],[1,2,3,4,5,6],lblA,
  ticks3D(boxA,B0,{x:B1,z:0,sign:-1},{x:B1,t:B1,sign:-1},[1,2,3,4,5,6]),()=>{
  series.push(customBase('(a) cap',0,0,(p,api)=>{
    const v=k=>api.value(k);
    const P=[0,3,6,9].map(k=>api.coord(proj(boxA,v(k),v(k+1),v(k+2))));
    return {type:'polygon',shape:{points:P},style:{fill:'#cdcdcd',stroke:'#cdcdcd',lineWidth:1}};
  },meshA.cap));
  const cu=(bandLow+bandHigh)/2,ce=lineEnds(cu);
  const xm=(ce[0]+ce[1])/2;
  series.push(lineSeries3D('(a) cap seam',boxA,[[xm-1,cu-xm+1,capTop,ce[1],cu-ce[1],capTop]],'#fff',4));
});

// ---------- (b) ----------
const axB=densityFrame([1389,62,805,864],[-6.224,5.236],[-6.21,5.23]);
series.push(stripSeries('(b) lower',axB,uLeft,zLeft,3.67,5.9));
series.push(stripSeries('(b) upper',axB,uRight,zRight,3.67,5.9));
{
  const beads=[];
  [[bandLow-.24,-1],[bandHigh+.24,1]].forEach(([u0,sgn])=>{
    for(let x=-5.95;x<5;x+=beadStepX){
      const e=lineEnds(u0);
      if(x-.08<e[0]||x+.08>e[1])continue;
      beads.push([x,u0,.07,.2,'#f6c47a',.45]);
      if(x+beadStepX/2+.04<e[1])beads.push([x+beadStepX/2,u0+sgn*.14,.03,.16,'#b8609f',.22]);
    }
  });
  series.push(beadSeries('(b) beads',axB,beads));
}
colorBar('(b) bar',[2280,79,113,810],3.67,5.9,barB,.1,2495,1.95,v=>v.toFixed(1));

// ---------- (c) ----------
curvePanel([2709.6,71,1090.4,872],3.51,6.553,3.666,cYMajor,cYMinor,v=>v.toFixed(1),[['t=0.1',cRed,'#ff0000'],['t=0.9',cBlue,'#0000ff'],['t=0.5',cGreen,'#00ff00']]);

// ---------- (d),(e) table ----------
const qNeg=qEdge.length;
const qTable=qAxis.map((t,j)=>qAxis.map((x,i)=>{
  if(i<qNeg&&j<qNeg)return qLower[j][i];
  if(i<qNeg)return qEdge[i];
  if(j<qNeg)return qEdge[j];
  return qUpper[j-qNeg][i-qNeg];
}));
const boxD={z:[-.08,3.95],w:[1,.8,1,1.25],
  bot:[[289,1861],[736,2061],[1153,1848],[711,1718]],top:[[267,1256],[738,1309],[1169,1252],[711,1219]]};
const tableX=(ax)=>ax.map(()=>ax.slice());
const tableT=(ax)=>ax.map(t=>ax.map(()=>t));
const slopeLight=k=>(X,T,Z,j,i)=>{
  const ni=Z[0].length,nj=Z.length;
  const side=(a,b,da)=>Math.abs(a-b)/Math.max(.12,da);
  const dx=Math.max(i>0?side(Z[j][i],Z[j][i-1],X[j][i]-X[j][i-1]):0,i<ni-1?side(Z[j][i+1],Z[j][i],X[j][i+1]-X[j][i]):0);
  const dt=Math.max(j>0?side(Z[j][i],Z[j-1][i],T[j][i]-T[j-1][i]):0,j<nj-1?side(Z[j+1][i],Z[j][i],T[j+1][i]-T[j][i]):0);
  const h2=dx*dx+dt*dt;return -k*h2/(h2+1);
};
const meshD=buildMesh(tableX(qAxis),tableT(qAxis),qTable,slopeLight(.62),-.06,[.4,.6,.8,1,1.2,1.4,1.6,1.8,2,2.2,2.4,2.6,2.8,3,3.2,3.4],true);
const lblD=[
 ...tickLabels(boxD,[[-5,B0,-.08,'\u22125'],[0,B0,-.08,'0'],[5,B0,-.08,'5']],2,44),
 ...tickLabels(boxD,[[B1,-5,-.08,'\u22125'],[B1,0,-.08,'0'],[B1,5,-.08,'5']],20,16),
 ...tickLabels(boxD,[[B0,B0,0,'0'],[B0,B0,1,'1'],[B0,B0,2,'2'],[B0,B0,3,'3']],-20,0),
 [489,2046,'x','#777',36],[1026,1973,'t','#777',36],[152,1582,p2text,'#777',36,p2rich]];
panel3D('(d)',boxD,meshD,.05,3.82,3.75,.975,0,0,[-5,-2.5,0,2.5,5],[0,1,2,3],lblD,
  ticks3D(boxD,B0,{x:B1,z:-.08,sign:-1},{x:B0,t:B0,sign:1},[.5,1,1.5,2,2.5,3,3.5]),()=>{
  series.push(combSeries('(d) comb',boxD,3.68,.75,'#5a5a55',.75));
});
const axE=densityFrame([1389,1219,805,865],[-6.224,5.236],[-6.21,5.23]);
series.push(densitySeries('(e) density',axE,qAxis,qAxis,qTable,.167,3.84));
const nearest=(ax,v)=>{let b=0;ax.forEach((a,i)=>{if(Math.abs(a-v)<Math.abs(ax[b]-v))b=i;});return b;};
const teethE=[
  ...toothX.map(x=>[x,.1,x,.38,.18,0,'#ecc878']),
  ...toothT.map(t=>[.1,t,.38,t,0,.16,'#ecc878']),
  ...lowX.map(x=>[x,-.02,x,.22,.16,0,pal((qLower[12][nearest(qAxis,x)]-.167)/3.673),.8]),
  ...lowT.map(t=>[-.02,t,.2,t,0,.16,pal((qLower[nearest(qAxis,t)][12]-.167)/3.673),.8])];
series.push(teethSeries('(e) seams',axE,teethE));
colorBar('(e) bar',[2280,1235,113,813],.167,3.84,barE,.1,2495,1.95,v=>v.toFixed(1));

// ---------- (f) ----------
curvePanel([2709.6,1221,1090.4,880],.598,4.115,.773,fYMajor,fYMinor,v=>v.toFixed(1),[['t=0.1',fRed,'#ff0000'],['t=0.9',fBlue,'#0000ff'],['t=0.5',fGreen,'#00ff00']]);

// ---------- (g),(h) ----------
const hTable=hRowsTopDown.slice().reverse();
const boxG={z:[-.05,4.66],w:[1,.85,1,1.18],
  bot:[[294,3062],[832,3230],[1136,2995],[661,2875]],top:[[267,2512],[842,2577],[1161,2487],[659,2449]]};
const meshG=buildMesh(tableX(hAxis),tableT(hAxis),hTable,slopeLight(.3),-.03,[.5,1,1.25,1.5,1.75,2,2.25,2.5,2.75,3,3.25,3.5],true);
const lblG=[
 ...tickLabels(boxG,[[-5,B0,-.05,'\u22125'],[0,B0,-.05,'0'],[5,B0,-.05,'5']],2,32),
 ...tickLabels(boxG,[[B0,-5,4.66,'\u22125'],[B0,0,4.66,'0'],[B0,5,4.66,'5']],4,-34),
 ...tickLabels(boxG,[[B0,B0,0,'0'],[B0,B0,1,'1'],[B0,B0,2,'2'],[B0,B0,3,'3'],[B0,B0,4,'4']],-22,0),
 [541,3223,'x','#777',36],[483,2397,'t','#777',36],[159,2820,p2text,'#777',36,p2rich]];
const tickG=ticks3D(boxG,B0,{x:B0,z:4.66,sign:1},{x:B0,t:B0,sign:1},[.5,1,1.5,2,2.5,3,3.5,4,4.5]);
panel3D('(g)',boxG,meshG,0,4.6,4.05,.955,0,0,[-5,-2.5,0,2.5,5],[0,1,2,3,4],lblG,tickG,()=>{
  series.push(combSeries('(g) comb',boxG,3.65,.7,'#d6d29c',.9));
});
const axH=densityFrame([1389,2377.5,805,865],[-6.224,5.236],[-6.21,5.23]);
series.push(densitySeries('(h) density',axH,hAxis,hAxis,hTable,0,4.18));
const teethH=[
  ...toothX.map(x=>[x,.08,x,.36,.18,0,'#e3d888']),
  ...toothT.map(t=>[.08,t,.36,t,0,.16,'#e3d888'])];
series.push(teethSeries('(h) seams',axH,teethH));
colorBar('(h) bar',[2288,2394,141,813],.008,4.18,barH,.2,2517,2.1,v=>String(v));

// ---------- (i) ----------
curvePanel([2709.6,2380,1090.4,879],-.24,4.585,0,iYMajor,iYMinor,v=>String(v),[['t=0.1',iRed,'#ff0000'],['t=0.9',iBlue,'#0000ff'],['t=0.5',iGreen,'#00ff00']]);

// ---------- captions ----------
const capRich={};
function tok(kind,text,w){
  const base={n:{fontSize:80},b:{fontSize:80,fontWeight:'bold'},i:{fontSize:80,fontStyle:'italic'},e:{fontSize:104},f:{fontSize:92},p:{fontSize:100},
    r:{fontSize:100,color:'#ff0000'},g:{fontSize:100,color:'#00ff00'},l:{fontSize:100,color:'#0000ff'}}[kind];
  const key=kind+(w?('w'+Math.round(w)):'');
  capRich[key]=Object.assign({fontFamily:SERIF,color:'#000',align:'left'},base,w?{width:w}:{});
  return '{'+key+'|'+text+'}';
}
function caption(x,y,text){graphics.push({type:'text',x,y:y+4,z:101,style:{text,rich:capRich,align:'left',verticalAlign:'middle'}});}
function cap1(x,y,letter,lw,val){
  caption(x,y,tok('n','(')+tok('b',letter)+tok('n',')')+tok('n',' ',lw-93)+tok('i','\u03b1',70)+tok('e','=',91)+tok('i','\u03b2',75)+tok('e','=',87)+tok('i','\u03b3',79)+tok('e','=',91)+tok('n',val));
}
cap1(307,1034,'a',116,'1');cap1(1623,1034,'b',129,'1');
cap1(269,2193,'d',127,'0.3');cap1(1598,2193,'e',116,'0.3');
cap1(272,3349,'g',122,'0.7');cap1(1594,3349,'h',124,'0.7');
function cap2(y,letter,val,y2,val2){
  caption(2681,y,tok('n','(')+tok('b',letter)+tok('n',')')+tok('n',' ',25)+tok('i','t',55)+tok('e','=',89)+tok('n','0.1',108)+tok('p','(',27)+tok('r','_',57)+tok('p',')',46)+tok('f','=',70)+tok('n','0.5',138)+tok('p','(',27)+tok('g','_',57)+tok('p',')',46)+tok('f','=',70)+tok('n','0.9',138)+tok('p','(',27)+tok('l','_',57)+tok('p',')'));
  caption(2681,y2,tok('n','&',85)+tok('i','\u03b1',74)+tok('e','=',112)+tok('i','\u03b2',72)+tok('e','=',110)+tok('i','\u03b3',80)+tok('e','=',110)+tok('n',val2));
}
cap2(1034,'c','1',1136,'1');cap2(2193,'f','0.3',2294,'0.3');cap2(3349,'i','0.7',3451,'0.7');

const chart=echarts.init(document.getElementById('c'),null,{renderer:'canvas'});
chart.setOption({animation:false,backgroundColor:'#fff',grid:grids,xAxis:xAxes,yAxis:yAxes,series,graphic:{elements:graphics}});
</script></body></html>
